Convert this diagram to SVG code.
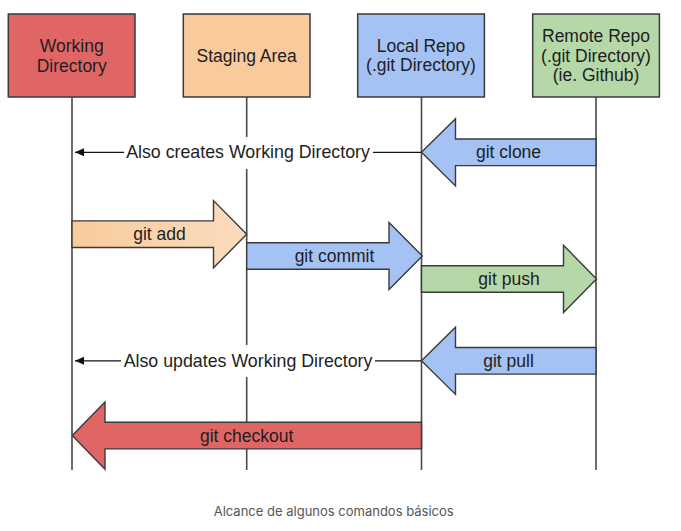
<svg xmlns="http://www.w3.org/2000/svg" width="681" height="531" viewBox="0 0 681 531">
<style>
.box{stroke:#3a3a3a;stroke-width:1.5}
.life{stroke:#4a4a4a;stroke-width:1.6;fill:none}
.arr{stroke:#3a3a3a;stroke-width:1.4;stroke-linejoin:miter}
.t{font-family:"Liberation Sans",Arial,sans-serif;font-size:17.5px;fill:#1e1e1e;text-anchor:middle}
.n{font-size:17.8px}
.note{stroke:#111;stroke-width:1.3;fill:none}
.cap{font-family:Inter,"Liberation Sans",sans-serif;font-size:13px;fill:#555;text-anchor:middle}
</style>
<defs>
<marker id="ah" markerWidth="10" markerHeight="10" refX="9" refY="4" orient="auto" markerUnits="userSpaceOnUse">
<path d="M0,0 L9,4 L0,8 Z" fill="#111"/>
</marker>
<linearGradient id="gAdd" x1="0" y1="0" x2="1" y2="0">
<stop offset="0" stop-color="#F9CB9C"/>
<stop offset="1" stop-color="#FBDCBE"/>
</linearGradient>
</defs>
<rect width="681" height="531" fill="#fff"/>

<g id="lifelines">
<line class="life" x1="72" y1="97" x2="72" y2="470"/>
<line class="life" x1="246.7" y1="97" x2="246.7" y2="470"/>
<line class="life" x1="421.5" y1="97" x2="421.5" y2="470"/>
<line class="life" x1="596" y1="97" x2="596" y2="470"/>
</g>

<g id="working-directory">
<rect class="box" x="8.3" y="14" width="126.7" height="83" fill="#E06666"/>
<text class="t" x="71.7" y="52.3">Working</text>
<text class="t" x="71.7" y="71.8">Directory</text>
</g>
<g id="staging-area">
<rect class="box" x="183.3" y="14" width="126.7" height="83" fill="#F9CB9C"/>
<text class="t" x="246.7" y="61.7">Staging Area</text>
</g>
<g id="local-repo">
<rect class="box" x="357.7" y="14" width="126.7" height="83" fill="#A4C2F4"/>
<text class="t" x="421" y="51.7">Local Repo</text>
<text class="t" x="421" y="71.3">(.git Directory)</text>
</g>
<g id="remote-repo">
<rect class="box" x="532.7" y="14" width="126.7" height="83" fill="#B6D7A8"/>
<text class="t" x="596" y="41.9">Remote Repo</text>
<text class="t" x="596" y="61.6">(.git Directory)</text>
<text class="t" x="596" y="81.2">(ie. Github)</text>
</g>

<g id="connectors">
<g id="clone-note">
<line class="note" x1="421.5" y1="152.3" x2="75" y2="152.3" marker-end="url(#ah)"/>
<rect x="124" y="137" width="249" height="32" fill="#fff"/>
<text class="t n" x="248" y="158.4">Also creates Working Directory</text>
</g>
<g id="git-clone">
<path class="arr" fill="#A4C2F4" d="M421.5,152.3 L455.5,118.7 L455.5,139 L596,139 L596,165.6 L455.5,165.6 L455.5,185.9 Z"/>
<text class="t" x="508.5" y="158.3">git clone</text>
</g>
<g id="git-add">
<path class="arr" fill="url(#gAdd)" d="M72,220.9 L213.5,220.9 L213.5,200.6 L246.7,234.2 L213.5,267.8 L213.5,247.5 L72,247.5 Z"/>
<text class="t" x="159.5" y="240.2">git add</text>
</g>
<g id="git-commit">
<path class="arr" fill="#A4C2F4" d="M246.7,242.7 L389,242.7 L389,222.4 L422.3,256 L389,289.6 L389,269.3 L246.7,269.3 Z"/>
<text class="t" x="334.5" y="262">git commit</text>
</g>
<g id="git-push">
<path class="arr" fill="#B6D7A8" d="M421.5,265.7 L563.5,265.7 L563.5,245.3 L596.5,278.9 L563.5,312.5 L563.5,292.3 L421.5,292.3 Z"/>
<text class="t" x="509" y="284.9">git push</text>
</g>
<g id="pull-note">
<line class="note" x1="421.5" y1="360.8" x2="75" y2="360.8" marker-end="url(#ah)"/>
<rect x="121" y="345" width="254" height="32" fill="#fff"/>
<text class="t n" x="248" y="366.9">Also updates Working Directory</text>
</g>
<g id="git-pull">
<path class="arr" fill="#A4C2F4" d="M421.5,360.8 L455.5,327.2 L455.5,347.5 L596,347.5 L596,374.1 L455.5,374.1 L455.5,394.4 Z"/>
<text class="t" x="508.5" y="366.8">git pull</text>
</g>
<g id="git-checkout">
<path class="arr" fill="#E06666" d="M72.3,435.6 L105,401.9 L105,422.3 L421.5,422.3 L421.5,448.9 L105,448.9 L105,469.3 Z"/>
<text class="t" x="246.7" y="441.6">git checkout</text>
</g>
</g>

<text class="cap" x="333.7" y="516">Alcance de algunos comandos básicos</text>
</svg>
